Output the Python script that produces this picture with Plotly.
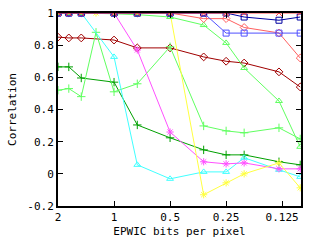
import plotly.graph_objects as go
import math

# x positions (EPWIC bits per pixel)
x_a = [2, 1.75, 1.5, 1, 0.75, 0.5, 0.33, 0.25, 0.2, 0.13, 0.1]
x_b = [2, 1.75, 1.5, 1.25, 1, 0.75, 0.5, 0.33, 0.25, 0.2, 0.13, 0.1]

dark_blue = [1, 1, 1, 1, 1, 1, 1, 1, 0.975, 0.955, 0.975]
blue = [1, 1, 1, 1, 1, 1, 1, 0.875, 0.875, 0.875, 0.875]
red = [1, 1, 1, 1, 1, 1, 1, 1, 1, 1, 1]
salmon = [1, 1, 1, 1, 1, 1, 0.965, 0.965, 0.91, 0.876, 0.72]
dark_red = [0.85, 0.845, 0.845, 0.832, 0.783, 0.783, 0.727, 0.70, 0.689, 0.634, 0.54]
light_green_a = [1, 1, 1, 0.995, 0.99, 0.975, 0.925, 0.814, 0.658, 0.453, 0.168]
light_green_b = [0.52, 0.53, 0.48, 0.88, 0.51, 0.56, 0.79, 0.298, 0.267, 0.255, 0.286, 0.217]
dark_green = [0.665, 0.665, 0.596, 0.57, 0.304, 0.224, 0.149, 0.118, 0.118, 0.075, 0.056]
cyan = [1, 1, 1, 0.727, 0.056, -0.031, 0.012, 0.012, 0.1, 0.025, -0.019]
magenta = [1, 1, 1, 1, 0.77, 0.26, 0.075, 0.062, 0.068, 0.031, 0.031]
yellow = [1, 1, 1, 1, 1, 1, 1, -0.13, -0.056, 0.0, 0.068, -0.087]

x_ticks = [2, 1, 0.5, 0.25, 0.125]
x_tick_text = ["2", "1", "0.5", "0.25", "0.125"]
y_ticks = [-0.2, 0, 0.2, 0.4, 0.6, 0.8, 1]
y_tick_text = ["-0.2", "0", "0.2", "0.4", "0.6", "0.8", "1"]

series = [
    (x_a, dark_red, "#a00000", "diamond-open"),
    (x_a, dark_green, "#00a000", "cross-thin-open"),
    (x_b, light_green_b, "#60ff60", "cross-thin-open"),
    (x_a, cyan, "#40ffff", "triangle-up-open"),
    (x_a, magenta, "#ff50ff", "asterisk-open"),
    (x_b, yellow, "#ffff40", "asterisk-open"),
    (x_a, light_green_a, "#60ff60", "triangle-up-open"),
    (x_a, salmon, "#ff6060", "diamond-open"),
    (x_a, blue, "#5050ff", "square-open"),
    (x_a, dark_blue, "#0000a0", "square-open"),
    (x_a, red, "#ff4040", "x-thin-open"),
]

fig = go.Figure()
for xs, ys, col, sym in series:
    fig.add_trace(go.Scatter(
        x=xs, y=ys, mode="lines+markers",
        line=dict(color=col, width=1),
        marker=dict(symbol=sym, size=6, color=col, line=dict(color=col, width=1)),
        showlegend=False,
    ))

font = dict(family="DejaVu Sans Mono", size=11, color="black")
fig.update_layout(
    width=320, height=240,
    margin=dict(l=58, r=19, t=13, b=34),
    paper_bgcolor="white", plot_bgcolor="white",
    font=font,
    xaxis=dict(
        type="log", range=[math.log10(2), math.log10(0.099)],
        tickvals=x_ticks, ticktext=x_tick_text,
        ticks="inside", ticklen=5, tickcolor="black",
        showline=True, linecolor="black", linewidth=2, mirror="ticks",
        showgrid=False, zeroline=False, automargin=False,
        title=dict(text="EPWIC bits per pixel", font=font, standoff=4),
    ),
    yaxis=dict(
        range=[-0.2, 1],
        tickvals=y_ticks, ticktext=y_tick_text,
        ticks="inside", ticklen=5, tickcolor="black",
        showline=True, linecolor="black", linewidth=2, mirror="ticks",
        showgrid=False, zeroline=False, automargin=False,
        title=dict(text="Correlation", font=font, standoff=8),
    ),
)
fig.write_html("out.html")
